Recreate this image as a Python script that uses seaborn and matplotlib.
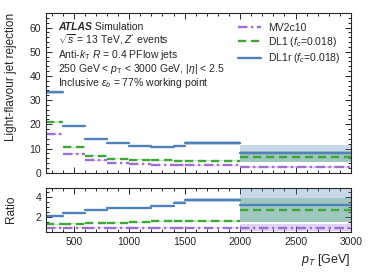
import numpy as np
import pandas as pd
import matplotlib
matplotlib.use("Agg")
import matplotlib.pyplot as plt
import seaborn as sns
from matplotlib.lines import Line2D
from matplotlib.ticker import MultipleLocator

# pT bins and light-flavour rejection
bin_edges = [250, 400, 600, 800, 1000, 1200, 1400, 1500, 2000, 3000]
taggers = ["MV2c10", "DL1", "DL1r"]
legend_labels = ["MV2c10", "DL1 ($f_c$=0.018)", "DL1r ($f_c$=0.018)"]
rej_mv2c10 = [15.8, 7.9, 5.1, 4.1, 3.5, 3.2, 3.0, 3.0, 2.45]
rej_dl1 = [20.8, 10.6, 7.1, 5.8, 5.4, 5.1, 5.0, 5.0, 6.6]
rej_dl1r = [33.2, 19.1, 13.9, 12.3, 11.0, 10.6, 11.2, 12.4, 8.0]
err_mv2c10 = [0.3, 0.15, 0.1, 0.1, 0.1, 0.1, 0.1, 0.15, 0.35]
err_dl1 = [0.4, 0.2, 0.15, 0.15, 0.15, 0.15, 0.15, 0.25, 2.2]
err_dl1r = [0.6, 0.4, 0.3, 0.3, 0.3, 0.3, 0.4, 0.8, 3.5]
# ratio to MV2c10
ratio_mv2c10 = [1.0, 1.0, 1.0, 1.0, 1.0, 1.0, 1.0, 1.0, 1.0]
ratio_dl1 = [1.32, 1.38, 1.45, 1.48, 1.51, 1.60, 1.66, 1.67, 2.72]
ratio_dl1r = [2.13, 2.42, 2.71, 2.87, 2.93, 3.14, 3.43, 3.71, 3.20]
rerr_mv2c10 = [0.03, 0.03, 0.03, 0.03, 0.03, 0.03, 0.04, 0.05, 0.35]
rerr_dl1 = [0.04, 0.04, 0.04, 0.04, 0.05, 0.05, 0.06, 0.08, 1.15]
rerr_dl1r = [0.06, 0.07, 0.07, 0.08, 0.08, 0.09, 0.12, 0.2, 1.7]

colors = {"MV2c10": "#9d6fd4", "DL1": "#3aa935", "DL1r": "#4f82ba"}
dashes = {"MV2c10": (4, 1.5, 1, 1.5), "DL1": (3.5, 2), "DL1r": ""}

sns.set_style("ticks")
plt.rcParams["font.family"] = ["Liberation Sans", "DejaVu Sans"]
plt.rcParams["mathtext.fontset"] = "custom"
plt.rcParams["mathtext.rm"] = "Liberation Sans"
plt.rcParams["mathtext.it"] = "Liberation Sans:italic"
plt.rcParams["mathtext.bf"] = "Liberation Sans:bold"
plt.rcParams["axes.linewidth"] = 0.8


def segments(vals_by_tagger):
    rows = []
    for t, vals in vals_by_tagger.items():
        for i, v in enumerate(vals):
            rows.append((t, i, bin_edges[i], v))
            rows.append((t, i, bin_edges[i + 1], v))
    return pd.DataFrame(rows, columns=["tagger", "seg", "pt", "val"])


def draw(ax, vals, errs):
    edges = np.array(bin_edges)
    for t in taggers:
        v = np.array(vals[t])
        e = np.array(errs[t])
        ax.fill_between(edges, np.append(v - e, (v - e)[-1]),
                        np.append(v + e, (v + e)[-1]), step="post",
                        color=colors[t], alpha=0.3, lw=0)
    df = segments(vals)
    sns.lineplot(data=df, x="pt", y="val", hue="tagger", style="tagger",
                 units="seg", estimator=None, palette=colors, dashes=dashes,
                 hue_order=taggers, style_order=taggers, lw=1.7,
                 legend=False, ax=ax)


def style_axis(ax):
    ax.tick_params(which="both", direction="in", top=True, right=True,
                   labelsize=7.5, width=0.7)
    ax.tick_params(which="major", length=4.5)
    ax.tick_params(which="minor", length=2.5)
    ax.xaxis.set_major_locator(MultipleLocator(500))
    ax.xaxis.set_minor_locator(MultipleLocator(100))
    ax.set_xlim(250, 3000)


fig = plt.figure(figsize=(3.74, 2.80), dpi=100)
ax = fig.add_axes([0.123, 0.3832, 0.8155, 0.5704])
rax = fig.add_axes([0.123, 0.1725, 0.8155, 0.1571])

draw(ax, {"MV2c10": rej_mv2c10, "DL1": rej_dl1, "DL1r": rej_dl1r},
     {"MV2c10": err_mv2c10, "DL1": err_dl1, "DL1r": err_dl1r})
draw(rax, {"MV2c10": ratio_mv2c10, "DL1": ratio_dl1, "DL1r": ratio_dl1r},
     {"MV2c10": rerr_mv2c10, "DL1": rerr_dl1, "DL1r": rerr_dl1r})

style_axis(ax)
style_axis(rax)
ax.set_ylim(0, 66)
ax.yaxis.set_major_locator(MultipleLocator(10))
ax.yaxis.set_minor_locator(MultipleLocator(2))
ax.tick_params(labelbottom=False)
ax.set_xlabel("")
ax.set_ylabel("Light-flavour jet rejection", fontsize=8.5, loc="top")
rax.set_ylim(0.6, 4.87)
rax.yaxis.set_major_locator(MultipleLocator(2))
rax.yaxis.set_minor_locator(MultipleLocator(0.5))
rax.set_ylabel("Ratio", fontsize=8.5)
rax.set_xlabel("$p_T$ [GeV]", fontsize=9, loc="right")
ax.yaxis.set_label_coords(-0.095, 1.0)
rax.yaxis.set_label_coords(-0.095, 0.5)

# ATLAS label
tx = 0.04
ty = 0.895
dy = 0.0875
atl = ax.text(tx, ty, "ATLAS", transform=ax.transAxes, fontsize=7.5,
              fontweight="bold", fontstyle="italic", va="baseline")
ax.annotate(" Simulation", xy=(1, 0), xycoords=atl, fontsize=7.5,
            va="bottom")
info = [
    r"$\sqrt{s}$ = 13 TeV, $Z'$ events",
    r"Anti-$k_{\mathrm{T}}$ $R$ = 0.4 PFlow jets",
    r"250 GeV < $p_{\mathrm{T}}$ < 3000 GeV, $|\eta|$ < 2.5",
    r"Inclusive $\varepsilon_b$ = 77% working point",
]
for i, line in enumerate(info):
    ax.text(tx, ty - (i + 1) * dy, line, transform=ax.transAxes,
            fontsize=7.5, va="baseline")

handles = [Line2D([], [], color=colors[t], lw=1.7,
                  dashes=dashes[t] if dashes[t] else (None, None))
           for t in taggers]
ax.legend(handles, legend_labels, loc="upper right", frameon=False,
          fontsize=7.5, handlelength=2.2, handletextpad=0.7,
          labelspacing=0.22, borderaxespad=0.3, bbox_to_anchor=(0.99, 0.985))

fig.savefig("out.png", dpi=100)
